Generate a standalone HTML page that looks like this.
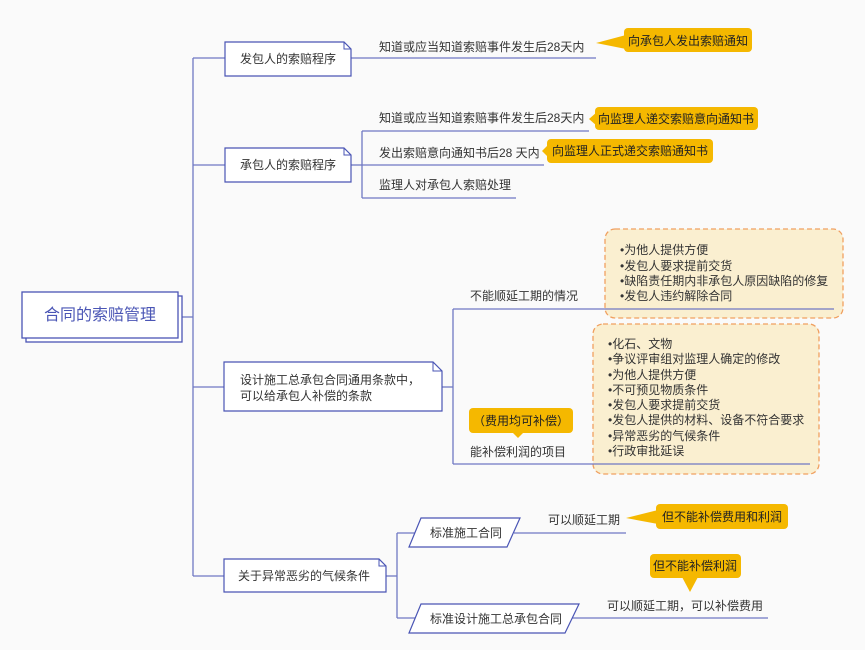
<!DOCTYPE html>
<html><head><meta charset="utf-8"><style>
html,body{margin:0;padding:0;background:#fafafa;}
svg{display:block;font-family:"Liberation Sans","Noto Sans CJK SC",sans-serif;}
</style></head><body>
<svg width="865" height="650" viewBox="0 0 865 650" xmlns="http://www.w3.org/2000/svg">
<rect width="865" height="650" fill="#fafafa"/>
<g stroke="#6f78c4" stroke-width="1.3" fill="none">
<!-- trunk -->
<line x1="182" y1="317" x2="193" y2="317"/>
<line x1="193" y1="58" x2="193" y2="576"/>
<line x1="193" y1="58" x2="225" y2="58"/>
<line x1="193" y1="165" x2="225" y2="165"/>
<line x1="193" y1="387" x2="224" y2="387"/>
<line x1="193" y1="576" x2="224" y2="576"/>
<!-- node1 -->
<line x1="351" y1="58" x2="596" y2="58"/>
<!-- node2 -->
<line x1="351" y1="165" x2="362" y2="165"/>
<line x1="362" y1="131" x2="362" y2="198"/>
<line x1="362" y1="131" x2="589" y2="131"/>
<line x1="362" y1="165" x2="544" y2="165"/>
<line x1="362" y1="198" x2="516" y2="198"/>
<!-- node3 -->
<line x1="442" y1="387" x2="453" y2="387"/>
<line x1="453" y1="309" x2="453" y2="464"/>
<!-- node4 -->
<line x1="386" y1="576" x2="397" y2="576"/>
<line x1="397" y1="533" x2="397" y2="618"/>
<line x1="397" y1="533" x2="415" y2="533"/>
<line x1="397" y1="618" x2="415" y2="618"/>
<line x1="514" y1="533" x2="626" y2="533"/>
<line x1="572" y1="618" x2="768" y2="618"/>
</g>
<!-- dashed boxes -->
<rect x="605" y="229" width="238" height="89" rx="10" fill="#faefd0" stroke="#f0a060" stroke-width="1.3" stroke-dasharray="5,3"/>
<rect x="593" y="324" width="226" height="150" rx="10" fill="#faefd0" stroke="#f0a060" stroke-width="1.3" stroke-dasharray="5,3"/>
<g stroke="#6f78c4" stroke-width="1.3">
<line x1="453" y1="309" x2="834" y2="309"/>
<line x1="453" y1="464" x2="810" y2="464"/>
</g>
<!-- root -->
<rect x="26" y="296" width="156" height="46" fill="#fff" stroke="#4a55b5" stroke-width="1.3"/>
<rect x="22" y="292" width="156" height="46" fill="#fff" stroke="#4a55b5" stroke-width="1.3"/>
<text x="100" y="320" font-size="16" fill="#4a55b5" text-anchor="middle">合同的索赔管理</text>
<!-- dog-ear boxes -->
<g fill="#fff" stroke="#4a55b5" stroke-width="1.2">
<path d="M225 42 H344 L351 49 V76 H225 Z"/>
<path d="M225 148 H344 L351 155 V182 H225 Z"/>
<path d="M224 362 H433 L442 371 V411 H224 Z"/>
<path d="M224 559 H379 L386 566 V592 H224 Z"/>
<path d="M421 518 H520 L507 547 H409 Z"/>
<path d="M421 604 H579 L565 633 H409 Z"/>
</g>
<g fill="none" stroke="#4a55b5" stroke-width="1"><path d="M344 42 V49 H351"/><path d="M344 148 V155 H351"/><path d="M433 362 V371 H442"/><path d="M379 559 V566 H386"/></g>
<g font-size="12" fill="#333">
<text x="240" y="63">发包人的索赔程序</text>
<text x="240" y="169">承包人的索赔程序</text>
<text x="240" y="384">设计施工总承包合同通用条款中，</text>
<text x="240" y="400">可以给承包人补偿的条款</text>
<text x="238" y="580">关于异常恶劣的气候条件</text>
<text x="430" y="537">标准施工合同</text>
<text x="430" y="623">标准设计施工总承包合同</text>
<text x="379" y="51">知道或应当知道索赔事件发生后28天内</text>
<text x="379" y="122">知道或应当知道索赔事件发生后28天内</text>
<text x="379" y="157">发出索赔意向通知书后28 天内</text>
<text x="379" y="189">监理人对承包人索赔处理</text>
<text x="470" y="300">不能顺延工期的情况</text>
<text x="470" y="456">能补偿利润的项目</text>
<text x="548" y="524">可以顺延工期</text>
<text x="607" y="610">可以顺延工期，可以补偿费用</text>
<text x="620" y="254">•为他人提供方便</text>
<text x="620" y="270">•发包人要求提前交货</text>
<text x="620" y="285">•缺陷责任期内非承包人原因缺陷的修复</text>
<text x="620" y="300">•发包人违约解除合同</text>
<text x="608" y="348">•化石、文物</text>
<text x="608" y="363">•争议评审组对监理人确定的修改</text>
<text x="608" y="379">•为他人提供方便</text>
<text x="608" y="394">•不可预见物质条件</text>
<text x="608" y="409">•发包人要求提前交货</text>
<text x="608" y="424">•发包人提供的材料、设备不符合要求</text>
<text x="608" y="440">•异常恶劣的气候条件</text>
<text x="608" y="455">•行政审批延误</text>
</g>
<!-- callouts -->
<g fill="#f5b800">
<rect x="624" y="28" width="128" height="24" rx="4"/><path d="M596 43 L626 35 L626 49 Z"/>
<rect x="595" y="107" width="163" height="23" rx="4"/><path d="M589 119 L597 112 L597 126 Z"/>
<rect x="547" y="139" width="166" height="24" rx="4"/><path d="M542 151 L549 144 L549 158 Z"/>
<rect x="469" y="408" width="104" height="25" rx="4"/><path d="M512 432 L524 432 L518 438 Z"/>
<rect x="656" y="504" width="132" height="25" rx="4"/><path d="M626 518 L658 510 L658 524 Z"/>
<rect x="650" y="554" width="91" height="24" rx="4"/><path d="M682 577 L698 577 L690 592 Z"/>
</g>
<g font-size="12" fill="#222">
<text x="688" y="45" text-anchor="middle">向承包人发出索赔通知</text>
<text x="676" y="123" text-anchor="middle">向监理人递交索赔意向通知书</text>
<text x="630" y="155" text-anchor="middle">向监理人正式递交索赔通知书</text>
<text x="521" y="425" text-anchor="middle">（费用均可补偿）</text>
<text x="722" y="521" text-anchor="middle">但不能补偿费用和利润</text>
<text x="695" y="570" text-anchor="middle">但不能补偿利润</text>
</g>
</svg>
</body></html>
